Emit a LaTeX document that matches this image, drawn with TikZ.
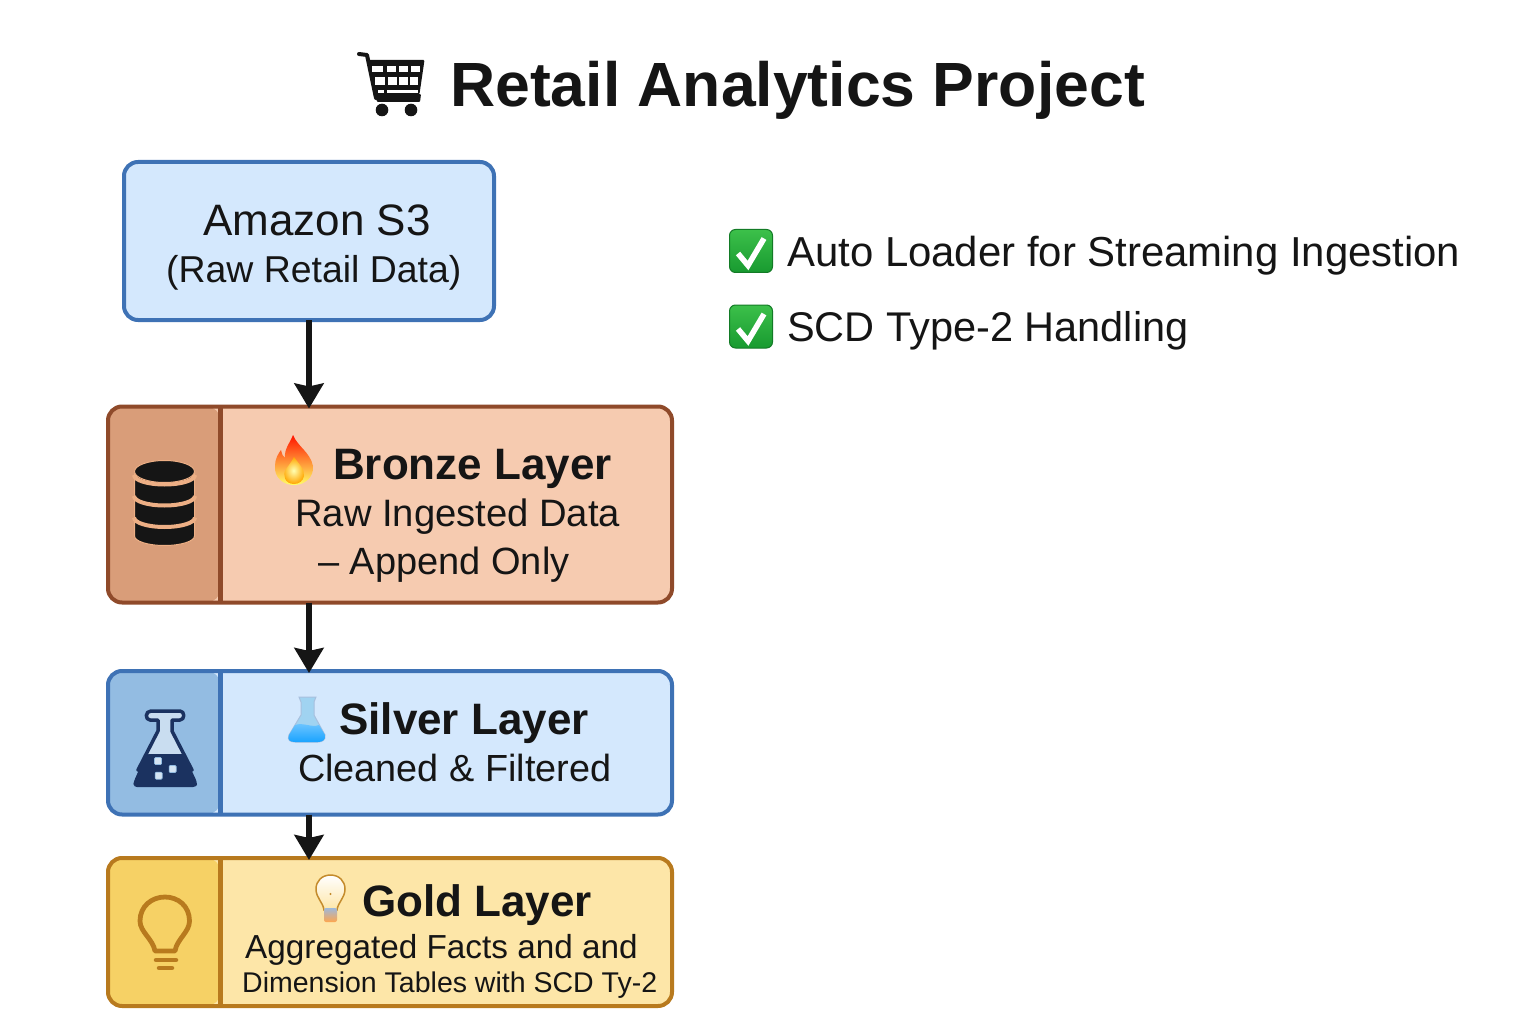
\documentclass[tikz,border=0pt]{standalone}
\usepackage{fontspec}
\setmainfont{Liberation Sans}
\usetikzlibrary{arrows.meta}
\definecolor{inkblack}{HTML}{151515}
\definecolor{s3blue}{HTML}{D4E8FD}
\definecolor{s3edge}{HTML}{3E72B5}
\definecolor{bronzefill}{HTML}{F6CBB0}
\definecolor{bronzepanel}{HTML}{D99D79}
\definecolor{bronzeedge}{HTML}{8F4A2A}
\definecolor{silverpanel}{HTML}{93BCE2}
\definecolor{goldfill}{HTML}{FDE6A8}
\definecolor{goldpanel}{HTML}{F6D165}
\definecolor{goldedge}{HTML}{B87A1E}
\definecolor{navyflask}{HTML}{1B3260}
\definecolor{checktop}{HTML}{3CC04A}
\definecolor{checkbottom}{HTML}{189A30}
\definecolor{bandtan}{HTML}{EDAF85}
\tikzset{
	box/.style = {draw, line width=4pt, rounded corners=14pt, inner sep=0pt, outer sep=0pt},
	layer/.style n args = {3}{box, draw=#1, fill=#2, minimum width=564pt,
		path picture={\fill[#3] (path picture bounding box.north west) rectangle ([xshift=112.5pt]path picture bounding box.south west);
			\draw[#1, line width=4.5pt] ([xshift=112.5pt]path picture bounding box.north west) -- ([xshift=112.5pt]path picture bounding box.south west);}},
	flow/.style = {draw=inkblack, line width=6pt, shorten >=-2pt, -{Stealth[length=25pt, width=29pt, inset=3pt]}},
	label/.style = {anchor=base west, inner sep=0pt, text=inkblack},
}
\newcommand{\checkmarkbox}[1]{
	\shade[top color=checktop, bottom color=checkbottom, draw=checkbottom!80!black, line width=1pt, rounded corners=6pt] (729.5,#1) rectangle ++(43,43);
	\draw[white, line width=5.5pt] (738,#1+24) -- (748,#1+36) -- (764,#1+9);
}
\begin{document}
\begin{tikzpicture}[x=1pt, y=-1pt]
	\useasboundingbox (0,0) rectangle (1536,1024);
	% boxes
	\node[box, draw=s3edge, fill=s3blue, minimum width=370pt, minimum height=158pt] (s3) at (309,241) {};
	\node[layer={bronzeedge}{bronzefill}{bronzepanel}, minimum height=196pt] (bronze) at (390,504.5) {};
	\node[layer={s3edge}{s3blue}{silverpanel}, minimum height=143.5pt] (silver) at (390,742.75) {};
	\node[layer={goldedge}{goldfill}{goldpanel}, minimum height=148pt] (gold) at (390,932) {};
	% arrows
	\draw[flow] (s3.south) -- (s3.south |- bronze.north);
	\draw[flow] (s3.south |- bronze.south) -- (s3.south |- silver.north);
	\draw[flow] (s3.south |- silver.south) -- (s3.south |- gold.north);
	% title and cart
	\node[label, font=\fontsize{62.5}{62.5}\selectfont\bfseries] (title) at (450,106.5) {Retail Analytics Project};
	\draw[inkblack, line width=4pt, line cap=round, line join=round] (359,54) -- (367,55) -- (376,98);
	\fill[inkblack, rounded corners=1pt] (367,60) -- (424.5,60) -- (419.5,94) -- (375,94) -- cycle;
	\fill[inkblack, rounded corners=1pt] (375,94) -- (421,94) -- (420,102) -- (377,102) -- cycle;
	\foreach \cx/\cw in {372/11,387/9,399/9,411/9} {
		\fill[white] (\cx,66) rectangle ++(\cw,6);
	}
	\foreach \cx/\cw in {375/10,388/9,399/9,410/8} {
		\fill[white] (\cx,77) rectangle ++(\cw,8);
	}
	\fill[white] (378,90) rectangle (384,93);
	\fill[white] (387,90) rectangle (418,93);
	\fill[inkblack] (382,110) circle (6.3pt);
	\fill[inkblack] (411,110) circle (6.3pt);
	% s3 text
	\node[label, font=\fontsize{44}{44}\selectfont] (s3name) at (203,236) {Amazon S3};
	\node[label, font=\fontsize{37.4}{37.4}\selectfont] (s3note) at (166,283) {(Raw Retail Data)};
	% bronze
	\draw[fill=inkblack, draw=bandtan, line width=1pt] (134.5,472) -- (134.5,536) arc[start angle=180, end angle=0, x radius=30, y radius=9.5] -- (194.5,472) -- cycle;
	\foreach \by in {475,496,517.5} {
		\draw[bandtan, line width=4pt] (134,\by) arc[start angle=180, end angle=0, x radius=30.5, y radius=9.5];
	}
	\draw[fill=inkblack, draw=bandtan, line width=1pt] (164.5,471.5) ellipse (30pt and 11pt);
	\shade[top color=red!85!orange, middle color=orange!90!red, bottom color=yellow!60!white] (293,435) .. controls (298,447) and (310,452) .. (313,466) .. controls (314,478) and (304,485) .. (294,485) .. controls (283,485) and (274,477) .. (275,466) .. controls (275,459) and (278,454) .. (281,450) .. controls (282,454) and (283,457) .. (285,458) .. controls (284,449) and (290,443) .. (293,435) -- cycle;
	\shade[inner color=yellow!30!white, outer color=orange!70!yellow] (294,484) .. controls (285,484) and (282,475) .. (286,469) .. controls (289,465) and (292,461) .. (294,457) .. controls (298,463) and (305,469) .. (304,476) .. controls (303,481) and (299,484) .. (294,484) -- cycle;
	\node[label, font=\fontsize{44}{44}\selectfont\bfseries] (bronzename) at (333,479) {Bronze Layer};
	\node[label, font=\fontsize{38.2}{38.2}\selectfont] (bronzeline1) at (295,526.5) {Raw Ingested Data};
	\node[label, font=\fontsize{38}{38}\selectfont] (bronzeline2) at (318,574) {– Append Only};
	% silver
	\draw[navyflask, fill=silverpanel!50!white, line width=3.5pt, line join=round] (151,711) -- (180,711) .. controls (185,711) and (185,720) .. (180,720) -- (172,720) -- (172,731) -- (192,770) -- (138,770) -- (158,731) -- (158,720) -- (150,720) .. controls (145,720) and (145,711) .. (151,711) -- cycle;
	\fill[navyflask, rounded corners=3pt] (146,754) -- (184,754) -- (197,782) .. controls (197,786) and (194,787) .. (190,787) -- (140,787) .. controls (136,787) and (133,786) .. (134,781) -- cycle;
	\foreach \sx/\sy in {158/761,172.7/769,158.7/775.7} {
		\draw[fill=silverpanel!40!white, draw=silverpanel, line width=0.7pt, rounded corners=1pt] (\sx-3.5,\sy-3.5) rectangle ++(7,7);
	}
	\draw[fill=cyan!25!s3blue, draw=s3edge!45!white, line width=1pt] (299,697) -- (316,697) -- (314,702) -- (314,715) -- (325,735) .. controls (326,740) and (322,742) .. (318,742) -- (295,742) .. controls (290,742) and (287,740) .. (289,735) -- (301,715) -- (301,702) -- cycle;
	\shade[top color=cyan!60!blue!55!white, bottom color=cyan!60!blue!90!white] (295,725) .. controls (303,722) and (312,728) .. (319,725) -- (325,735) .. controls (326,740) and (322,742) .. (318,742) -- (295,742) .. controls (290,742) and (287,740) .. (289,735) -- cycle;
	\node[label, font=\fontsize{44}{44}\selectfont\bfseries] (silvername) at (339,734) {Silver Layer};
	\node[label, font=\fontsize{37.8}{37.8}\selectfont] (silvernote) at (298,781.5) {Cleaned \& Filtered};
	% gold
	\draw[goldedge, line width=4.8pt, line join=round] (155,951) -- (175,951) .. controls (177,939) and (189.5,932) .. (189.5,921) .. controls (189.5,906) and (178,897) .. (165,897) .. controls (152,897) and (140,906) .. (140,921) .. controls (140,932) and (153,939) .. (155,951) -- cycle;
	\draw[goldedge, line width=4.5pt, line cap=round] (156,960) -- (176,960);
	\draw[goldedge, line width=4.5pt, line cap=round] (159,968) -- (172,968);
	\shade[top color=white, bottom color=goldfill, draw=goldedge!80!goldpanel, line width=1.5pt] (330.5,875) .. controls (339,875) and (345,881) .. (345,889) .. controls (345,898) and (338,902) .. (337,910) -- (324,910) .. controls (323,902) and (316,898) .. (316,889) .. controls (316,881) and (322,875) .. (330.5,875) -- cycle;
	\fill[goldedge!80!goldpanel] (330.5,894) circle (1.2pt);
	\shade[top color=s3edge!50!white, bottom color=orange!70!white, rounded corners=2pt] (324,908) rectangle (337,922);
	\node[label, font=\fontsize{44}{44}\selectfont\bfseries] (goldname) at (362,916) {Gold Layer};
	\node[label, font=\fontsize{33.3}{33.3}\selectfont] (goldline1) at (245,958) {Aggregated Facts and and};
	\node[label, font=\fontsize{28.5}{28.5}\selectfont] (goldline2) at (242,992) {Dimension Tables with SCD Ty-2};
	% checks
	\checkmarkbox{229.5}
	\checkmarkbox{305}
	\node[label, font=\fontsize{41.9}{41.9}\selectfont] (autoloader) at (787,266) {Auto Loader for Streaming Ingestion};
	\node[label, font=\fontsize{41.5}{41.5}\selectfont] (scdtype) at (787,341.5) {SCD Type-2 Handling};
\end{tikzpicture}
\end{document}
